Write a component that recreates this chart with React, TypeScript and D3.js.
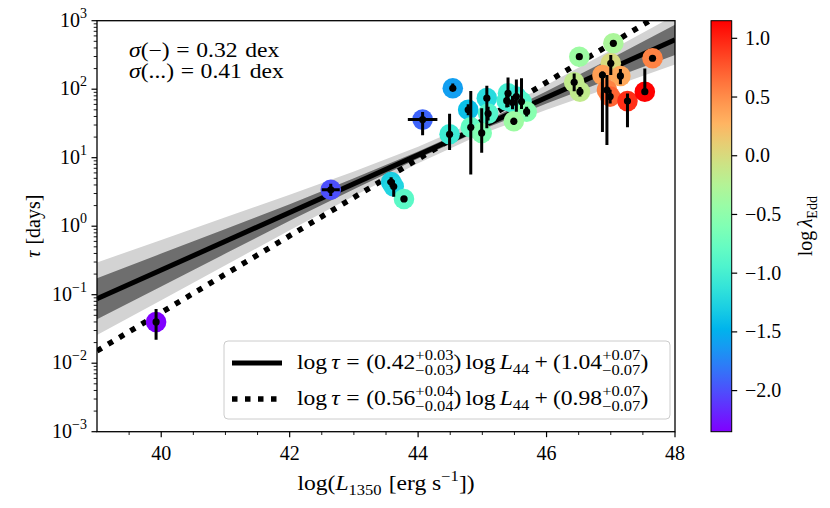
import React, { useRef, useEffect } from "react";
import * as d3 from "d3";

// measured objects: log L1350, lag (days), lag errors (dex), L errors, Eddington ratio
const logL = [39.92, 42.64, 43.58, 43.62, 43.78, 44.07, 44.54, 44.49, 44.78, 44.82, 45.07, 45.09, 44.99, 45.40, 45.47, 45.53, 45.61, 45.69, 45.49, 45.38, 46.51, 46.43, 46.52, 47.04, 47.00, 46.87, 47.15, 46.94, 46.99, 47.26, 47.53, 47.65];
const tauDays = [0.040, 3.4, 4.4, 3.8, 2.5, 36, 103, 22, 50, 27.8, 74, 44, 23, 87, 64, 78, 66, 47, 34, 68, 298, 126, 92, 468, 239, 161, 156, 97, 78, 67, 92, 283];
const errUp = [0.19, 0.09, 0.07, 0.05, 0.03, 0.11, 0.07, 0.30, 0.08, 0.53, 0.18, 0.10, 0.36, 0.23, 0.10, 0.25, 0.34, 0.07, 0.05, 0.10, 0.03, 0.13, 0.07, 0.04, 0.12, 0.05, 0.10, 0.22, 0.10, 0.11, 0.34, 0.04];
const errDown = [0.26, 0.09, 0.07, 0.15, 0.03, 0.23, 0.03, 0.23, 0.08, 0.69, 0.44, 0.10, 0.29, 0.20, 0.10, 0.22, 0.11, 0.07, 0.05, 0.10, 0.03, 0.13, 0.07, 0.04, 0.17, 0.83, 0.12, 0.80, 0.10, 0.38, 0.05, 0.04];
const errL = [0, 0.14, 0.06, 0, 0.05, 0.23, 0, 0, 0, 0, 0, 0, 0, 0, 0, 0, 0, 0, 0, 0, 0, 0, 0, 0, 0, 0, 0, 0, 0, 0, 0, 0];
const logEdd = [-2.35, -2.0, -1.3, -1.25, -0.85, -1.9, -1.6, -1.05, -1.4, -0.8, -1.2, -0.9, -0.6, -1.0, -1.0, -1.1, -0.9, -0.55, -0.4, -1.0, -0.4, -0.15, -0.15, -0.3, 0.0, 0.4, 0.35, 0.55, 0.7, 0.95, 1.15, 0.55];

// fits (slope, intercept at L44)
const fitSolid = [0.42, 1.04];
const fitDotted = [0.56, 0.98];

// uncertainty bands of the solid fit, half-width in dex
const bandL = [39, 40, 41, 42, 43, 44, 45, 46, 47, 48];
const darkHalf = [0.30, 0.24, 0.18, 0.12, 0.08, 0.05, 0.05, 0.09, 0.15, 0.22];
const lightHalf = [0.53, 0.44, 0.35, 0.26, 0.18, 0.12, 0.11, 0.18, 0.27, 0.36];

const xTicks = [40, 42, 44, 46, 48];
const yDecades = [-3, -2, -1, 0, 1, 2, 3];
const cbTicks = [-2.0, -1.5, -1.0, -0.5, 0.0, 0.5, 1.0];
const cbRange = [-2.35, 1.15];

type Piece = { t?: string; it?: boolean; sup?: string; sub?: string; gap?: number };

// matplotlib "rainbow"
function rainbow(v: number) {
  const r = Math.min(1, Math.abs(2 * v - 0.5));
  const g = Math.min(1, Math.max(0, Math.sin(Math.PI * v)));
  const b = Math.min(1, Math.max(0, Math.cos((Math.PI * v) / 2)));
  return d3.rgb(r * 255, g * 255, b * 255).formatHex();
}

// lays out a little TeX-like string piece by piece, returns the outer group
function drawMath(parent: any, pieces: Piece[], size: number, anchor: string) {
  const outer = parent.append("g");
  const g = outer.append("g");
  let x = 0;
  const measure = (el: any) => (el.node() as SVGTextContentElement).getComputedTextLength();
  for (const p of pieces) {
    if (p.gap) x += p.gap * size;
    if (p.t !== undefined) {
      const el = g.append("text").attr("x", x).attr("y", 0)
        .attr("font-size", size).attr("font-style", p.it ? "italic" : "normal")
        .text(p.t);
      x += measure(el);
    }
    if (p.sup !== undefined || p.sub !== undefined) {
      // one text element, stacked tspans
      const el = g.append("text").attr("font-size", 0.7 * size);
      let w = 0;
      if (p.sup !== undefined) {
        const s = el.append("tspan").attr("x", x).attr("y", -0.45 * size).text(p.sup);
        w = Math.max(w, measure(s));
      }
      if (p.sub !== undefined) {
        const s = el.append("tspan").attr("x", x).attr("y", (p.sup !== undefined ? 0.3 : 0.26) * size).text(p.sub);
        w = Math.max(w, measure(s));
      }
      x += w;
    }
  }
  const shift = anchor === "end" ? -x : anchor === "middle" ? -x / 2 : 0;
  g.attr("transform", `translate(${shift},0)`);
  return outer;
}

export default function App() {
  const ref = useRef<SVGSVGElement>(null);

  useEffect(() => {
    if (!ref.current) return;
    document.body.style.margin = "0";
    const svg = d3.select(ref.current);
    svg.selectAll("*").remove();

    const left = 97, right = 675, top = 20.7, bottom = 431.7;
    const fs = 20;
    const wide = 1.18; // computer modern runs wider than Liberation Serif

    const x = d3.scaleLinear().domain([39, 48]).range([left, right]);
    const y = d3.scaleLog().domain([1e-3, 1e3]).range([bottom, top]);

    svg.append("defs").append("clipPath").attr("id", "plotclip")
      .append("rect").attr("x", left).attr("y", top)
      .attr("width", right - left).attr("height", bottom - top);

    const plot = svg.append("g").attr("clip-path", "url(#plotclip)");

    const center = (L: number) => fitSolid[0] * (L - 44) + fitSolid[1];

    const bandArea = (half: number[]) =>
      d3.area<number>()
        .x((L) => x(L))
        .y0((L, i) => y(Math.pow(10, center(L) - half[i])))
        .y1((L, i) => y(Math.pow(10, center(L) + half[i])));

    plot.append("path").attr("d", bandArea(lightHalf)(bandL)!).attr("fill", "#d3d3d3");
    plot.append("path").attr("d", bandArea(darkHalf)(bandL)!).attr("fill", "#6e6e6e");

    const fitLine = (fit: number[]) =>
      d3.line<number>()
        .x((L) => x(L))
        .y((L) => y(Math.pow(10, fit[0] * (L - 44) + fit[1])));

    plot.append("path").attr("d", fitLine(fitSolid)([39, 48])!)
      .attr("stroke", "#000").attr("stroke-width", 5).attr("fill", "none");
    plot.append("path").attr("d", fitLine(fitDotted)([39, 48])!)
      .attr("stroke", "#000").attr("stroke-width", 5.5).attr("fill", "none")
      .attr("stroke-dasharray", "5.5,7.5");

    const cnorm = (v: number) => (v - cbRange[0]) / (cbRange[1] - cbRange[0]);
    const idx = d3.range(logL.length);

    // coloured markers
    plot.selectAll(".mk").data(idx).enter().append("circle")
      .attr("cx", (i) => x(logL[i]))
      .attr("cy", (i) => y(tauDays[i]))
      .attr("r", 10.3)
      .attr("fill", (i) => rainbow(cnorm(logEdd[i])));

    // error bars
    idx.forEach((i) => {
      const cx = x(logL[i]), cy = y(tauDays[i]);
      plot.append("line")
        .attr("x1", cx).attr("x2", cx)
        .attr("y1", y(tauDays[i] * Math.pow(10, errUp[i])))
        .attr("y2", y(tauDays[i] / Math.pow(10, errDown[i])))
        .attr("stroke", "#000").attr("stroke-width", 3);
      if (errL[i] > 0) {
        plot.append("line")
          .attr("x1", x(logL[i] - errL[i])).attr("x2", x(logL[i] + errL[i]))
          .attr("y1", cy).attr("y2", cy)
          .attr("stroke", "#000").attr("stroke-width", 3);
      }
    });

    plot.selectAll(".dot").data(idx).enter().append("circle")
      .attr("cx", (i) => x(logL[i]))
      .attr("cy", (i) => y(tauDays[i]))
      .attr("r", 3.6)
      .attr("fill", "#000");

    // axes frame
    svg.append("rect").attr("x", left).attr("y", top)
      .attr("width", right - left).attr("height", bottom - top)
      .attr("fill", "none").attr("stroke", "#000").attr("stroke-width", 1.3);

    // x ticks
    d3.range(39.5, 48.01, 0.5).forEach((v) => {
      const major = xTicks.includes(v);
      svg.append("line").attr("x1", x(v)).attr("x2", x(v))
        .attr("y1", bottom).attr("y2", bottom + (major ? 5.5 : 3.3))
        .attr("stroke", "#000").attr("stroke-width", major ? 1.2 : 0.9);
    });
    xTicks.forEach((v) => {
      drawMath(svg, [{ t: String(v) }], fs, "middle")
        .attr("transform", `translate(${x(v)},${bottom + 28})`);
    });

    // y ticks
    yDecades.forEach((k) => {
      const yy = y(Math.pow(10, k));
      svg.append("line").attr("x1", left).attr("x2", left - 5.5)
        .attr("y1", yy).attr("y2", yy).attr("stroke", "#000").attr("stroke-width", 1.2);
      if (k < 3) {
        d3.range(2, 10).forEach((m) => {
          const ym = y(m * Math.pow(10, k));
          svg.append("line").attr("x1", left).attr("x2", left - 3.3)
            .attr("y1", ym).attr("y2", ym).attr("stroke", "#000").attr("stroke-width", 0.9);
        });
      }
      drawMath(svg, [{ t: "10" }, { sup: k < 0 ? "−" + Math.abs(k) : String(k) }], fs, "end")
        .attr("transform", `translate(${left - 10},${yy + 6})`);
    });

    // axis labels
    drawMath(svg, [{ t: "log(" }, { t: "L", it: true }, { sub: "1350" }, { gap: 0.3 }, { t: "[erg s" }, { sup: "−1" }, { t: "])" }], fs, "middle")
      .attr("transform", `translate(${(left + right) / 2},490) scale(${wide},1)`);
    drawMath(svg, [{ t: "τ", it: true }, { gap: 0.3 }, { t: "[days]" }], fs, "middle")
      .attr("transform", `translate(40,${(top + bottom) / 2}) rotate(-90)`);

    // sigma annotations
    drawMath(svg, [{ t: "σ", it: true }, { t: "(−)" }, { gap: 0.28 }, { t: "=" }, { gap: 0.28 }, { t: "0.32" }, { gap: 0.33 }, { t: "dex" }], fs, "start")
      .attr("transform", `translate(129,57) scale(${wide},1)`);
    drawMath(svg, [{ t: "σ", it: true }, { t: "(...)" }, { gap: 0.28 }, { t: "=" }, { gap: 0.28 }, { t: "0.41" }, { gap: 0.33 }, { t: "dex" }], fs, "start")
      .attr("transform", `translate(129,78) scale(${wide},1)`);

    // legend
    svg.append("rect").attr("x", 224).attr("y", 341).attr("width", 446).attr("height", 78)
      .attr("rx", 4).attr("fill", "#fff").attr("fill-opacity", 0.8)
      .attr("stroke", "#cccccc").attr("stroke-width", 1);
    svg.append("line").attr("x1", 232).attr("x2", 282).attr("y1", 363).attr("y2", 363)
      .attr("stroke", "#000").attr("stroke-width", 5);
    svg.append("line").attr("x1", 232).attr("x2", 282).attr("y1", 399).attr("y2", 399)
      .attr("stroke", "#000").attr("stroke-width", 5.5).attr("stroke-dasharray", "5.5,7.5");
    const legendEq = (a: string, ea: string, b: string, eb: string): Piece[] => [
      { t: "log" }, { gap: 0.17 }, { t: "τ", it: true }, { gap: 0.28 }, { t: "=" }, { gap: 0.28 },
      { t: "(" + a }, { sup: "+" + ea, sub: "−" + ea }, { t: ")" }, { gap: 0.17 }, { t: "log" }, { gap: 0.17 },
      { t: "L", it: true }, { sub: "44" }, { gap: 0.22 }, { t: "+" }, { gap: 0.22 },
      { t: "(" + b }, { sup: "+" + eb, sub: "−" + eb }, { t: ")" },
    ];
    drawMath(svg, legendEq("0.42", "0.03", "1.04", "0.07"), fs, "start").attr("transform", `translate(297,369) scale(${wide},1)`);
    drawMath(svg, legendEq("0.56", "0.04", "0.98", "0.07"), fs, "start").attr("transform", `translate(297,405) scale(${wide},1)`);

    // colorbar
    const cbX0 = 711, cbX1 = 731.7;
    const cy = d3.scaleLinear().domain(cbRange).range([bottom, top]);
    const grad = svg.select("defs").append("linearGradient").attr("id", "cbgrad")
      .attr("x1", 0).attr("y1", 1).attr("x2", 0).attr("y2", 0);
    d3.range(0, 1.0001, 0.05).forEach((t) => {
      grad.append("stop").attr("offset", t).attr("stop-color", rainbow(t));
    });
    svg.append("rect").attr("x", cbX0).attr("y", top).attr("width", cbX1 - cbX0).attr("height", bottom - top)
      .attr("fill", "url(#cbgrad)").attr("stroke", "#000").attr("stroke-width", 1);
    cbTicks.forEach((v) => {
      svg.append("line").attr("x1", cbX1).attr("x2", cbX1 + 5.5).attr("y1", cy(v)).attr("y2", cy(v))
        .attr("stroke", "#000").attr("stroke-width", 1.2);
      drawMath(svg, [{ t: v < 0 ? "−" + Math.abs(v).toFixed(1) : v.toFixed(1) }], fs, "start")
        .attr("transform", `translate(745,${cy(v) + 6.5})`);
    });
    drawMath(svg, [{ t: "log" }, { gap: 0.17 }, { t: "λ", it: true }, { sub: "Edd" }], fs, "middle")
      .attr("transform", `translate(812,${(top + bottom) / 2}) rotate(-90)`);
  }, []);

  return (
    <svg ref={ref} width={830} height={508}
      style={{ display: "block", fontFamily: "'Liberation Serif', 'DejaVu Serif', serif", background: "#fff" }} />
  );
}
